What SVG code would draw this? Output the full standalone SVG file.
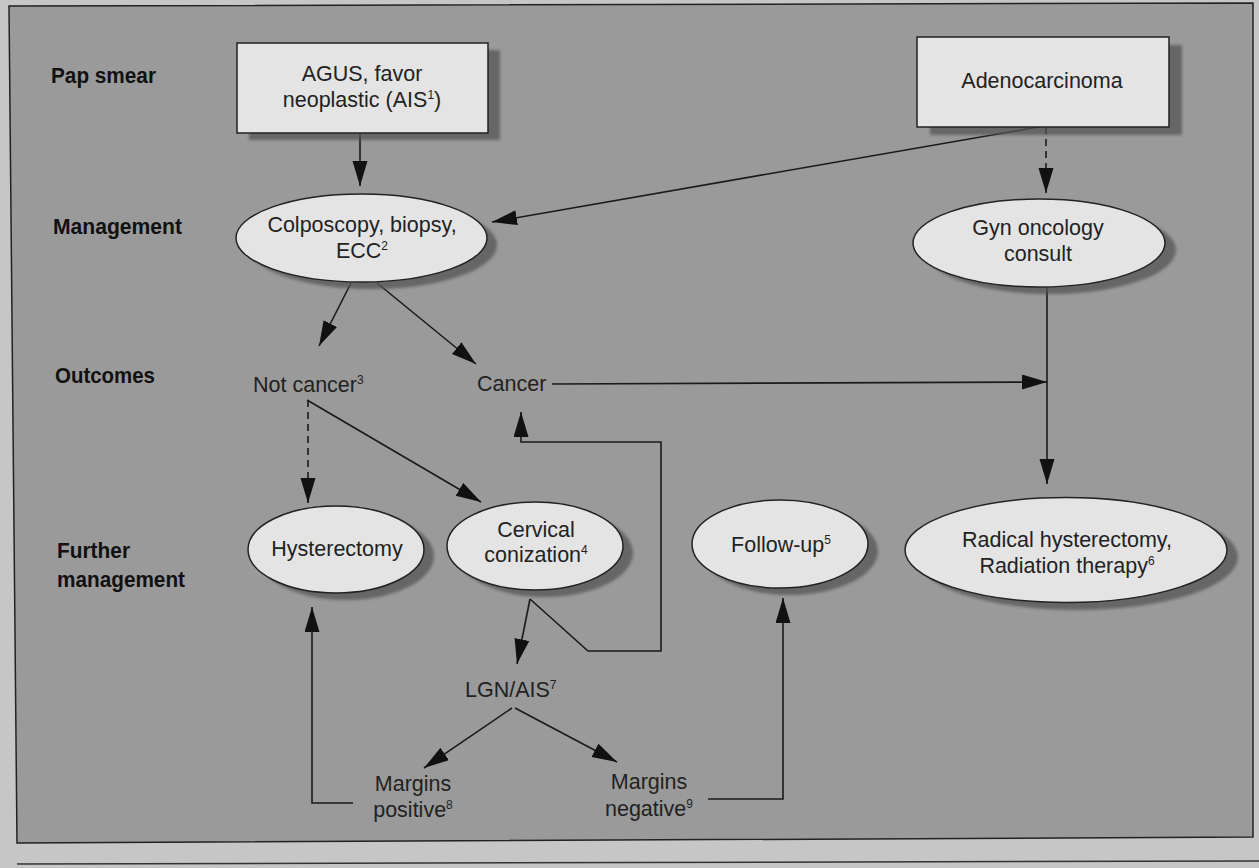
<svg xmlns="http://www.w3.org/2000/svg" width="1259" height="868" viewBox="0 0 1259 868">
<style>
.lbl{font-family:"Liberation Sans",Arial,sans-serif;font-weight:bold;font-size:22px;fill:#111}
.t{font-family:"Liberation Sans",Arial,sans-serif;font-size:21.5px;fill:#222;text-anchor:middle}
.tl{font-family:"Liberation Sans",Arial,sans-serif;font-size:21.5px;fill:#222}
.sup{font-size:12px}
.node{fill:#e4e4e4;stroke:#222;stroke-width:1.5}
.shadow{fill:#555;opacity:0.75}
.c{fill:none;stroke:#1a1a1a;stroke-width:1.6}
.d{stroke-dasharray:7 5}
.a{marker-end:url(#ah)}
</style>
<defs>
<marker id="ah" markerUnits="userSpaceOnUse" markerWidth="26" markerHeight="16" refX="25" refY="7.5" orient="auto" viewBox="0 0 26 16">
<path d="M0,0 L25,7.5 L0,15 z" fill="#111"/>
</marker>
<filter id="blur" x="-10%" y="-10%" width="120%" height="120%"><feGaussianBlur stdDeviation="1.5"/></filter>
</defs>
<rect x="0" y="0" width="1259" height="868" fill="#c6c6c6"/>
<polygon points="9,6 1253,3 1253,837 17,843" fill="#9a9a9a" stroke="#222" stroke-width="1.5"/>
<line x1="17" y1="864" x2="1259" y2="861" stroke="#333" stroke-width="1.5"/>

<g id="labels">
<text class="lbl" x="51" y="83" textLength="105" lengthAdjust="spacingAndGlyphs">Pap smear</text>
<text class="lbl" x="53" y="234" textLength="129" lengthAdjust="spacingAndGlyphs">Management</text>
<text class="lbl" x="55" y="383" textLength="100" lengthAdjust="spacingAndGlyphs">Outcomes</text>
<text class="lbl" x="57" y="558" textLength="73" lengthAdjust="spacingAndGlyphs">Further</text>
<text class="lbl" x="57" y="587" textLength="128" lengthAdjust="spacingAndGlyphs">management</text>
</g>

<g id="connectors">
<path class="c a" d="M360,133 L360,186"/>
<path class="c a" d="M1038,127 L492,222"/>
<path class="c d a" d="M1046,127 L1046,193"/>
<path class="c a" d="M351,283 L319,346"/>
<path class="c a" d="M377,283 L476,364"/>
<path class="c a" d="M552,384 L1047,382"/>
<path class="c a" d="M1047,287 L1047,484"/>
<path class="c d a" d="M308,400 L308,503"/>
<path class="c a" d="M307,400 L481,502"/>
<path class="c a" d="M530,599 L517,664"/>
<path class="c a" d="M530,599 L588,651 L661,651 L661,442 L521,442 L521,412"/>
<path class="c a" d="M512,708 L424,768"/>
<path class="c a" d="M515,708 L617,762"/>
<path class="c a" d="M353,803 L312,803 L312,607"/>
<path class="c a" d="M708,799 L783,799 L783,598"/>
</g>

<g id="agus">
<rect class="shadow" x="249" y="50" width="251" height="90" filter="url(#blur)"/>
<rect class="node" x="237" y="43" width="251" height="90"/>
<text class="t" x="362" y="81">AGUS, favor</text>
<text class="t" x="362" y="107">neoplastic (AIS<tspan class="sup" dy="-8">1</tspan><tspan dy="8">)</tspan></text>
</g>

<g id="adenocarcinoma">
<rect class="shadow" x="930" y="45" width="252" height="90" filter="url(#blur)"/>
<rect class="node" x="917" y="37" width="252" height="90"/>
<text class="t" x="1042" y="88">Adenocarcinoma</text>
</g>

<g id="colposcopy">
<ellipse class="shadow" cx="372" cy="245" rx="125" ry="44" filter="url(#blur)"/>
<ellipse class="node" cx="361.5" cy="238" rx="125.5" ry="44"/>
<text class="t" x="362" y="232">Colposcopy, biopsy,</text>
<text class="t" x="362" y="258">ECC<tspan class="sup" dy="-8">2</tspan></text>
</g>

<g id="gyn">
<ellipse class="shadow" cx="1050" cy="250" rx="126" ry="44" filter="url(#blur)"/>
<ellipse class="node" cx="1039" cy="243" rx="126" ry="44"/>
<text class="t" x="1038" y="235">Gyn oncology</text>
<text class="t" x="1038" y="261">consult</text>
</g>

<g id="notcancer">
<text class="tl" x="253" y="392">Not cancer<tspan class="sup" dy="-8">3</tspan></text>
</g>

<g id="cancer">
<text class="tl" x="477" y="391">Cancer</text>
</g>

<g id="hysterectomy">
<ellipse class="shadow" cx="346" cy="556" rx="88" ry="44" filter="url(#blur)"/>
<ellipse class="node" cx="336" cy="549.5" rx="88" ry="43.5"/>
<text class="t" x="337" y="556">Hysterectomy</text>
</g>

<g id="conization">
<ellipse class="shadow" cx="545" cy="553" rx="88" ry="44" filter="url(#blur)"/>
<ellipse class="node" cx="535" cy="546" rx="88" ry="44"/>
<text class="t" x="536" y="537">Cervical</text>
<text class="t" x="536" y="562">conization<tspan class="sup" dy="-8">4</tspan></text>
</g>

<g id="followup">
<ellipse class="shadow" cx="790" cy="551" rx="88" ry="44" filter="url(#blur)"/>
<ellipse class="node" cx="780" cy="544" rx="88" ry="44"/>
<text class="t" x="781" y="552">Follow-up<tspan class="sup" dy="-8">5</tspan></text>
</g>

<g id="radical">
<ellipse class="shadow" cx="1077" cy="557" rx="161" ry="53" filter="url(#blur)"/>
<ellipse class="node" cx="1066" cy="550" rx="161" ry="52.5"/>
<text class="t" x="1067" y="547">Radical hysterectomy,</text>
<text class="t" x="1067" y="573">Radiation therapy<tspan class="sup" dy="-8">6</tspan></text>
</g>

<g id="lgn">
<text class="tl" x="465" y="697">LGN/AIS<tspan class="sup" dy="-8">7</tspan></text>
</g>

<g id="marginspos">
<text class="t" x="413" y="791">Margins</text>
<text class="t" x="413" y="817">positive<tspan class="sup" dy="-8">8</tspan></text>
</g>

<g id="marginsneg">
<text class="t" x="649" y="789">Margins</text>
<text class="t" x="649" y="816">negative<tspan class="sup" dy="-8">9</tspan></text>
</g>
</svg>
